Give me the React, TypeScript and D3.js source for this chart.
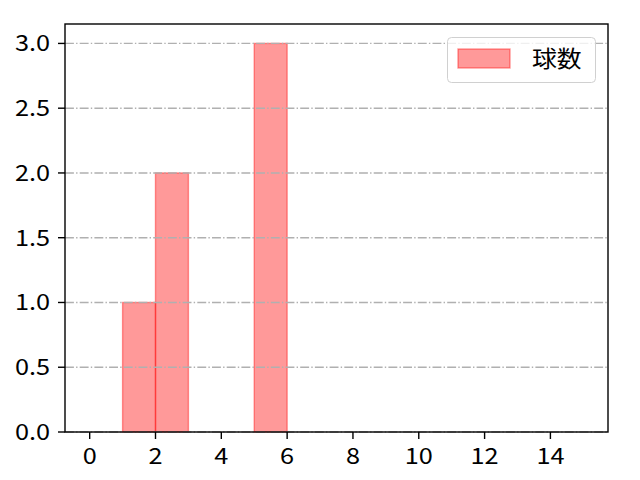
import React from "react";
import * as d3 from "d3";

const binStarts = [1, 2, 5];
const binEnds = [2, 3, 6];
const counts = [1, 2, 3];
const xTicks = [0, 2, 4, 6, 8, 10, 12, 14];
const yTicks = [0, 0.5, 1.0, 1.5, 2.0, 2.5, 3.0];
const seriesName = "球数";

export default function App() {
  const W = 640, H = 480;
  const L = 65, R = 608, T = 24, B = 432;
  const x = d3.scaleLinear().domain([-0.75, 15.75]).range([L, R]);
  const y = d3.scaleLinear().domain([0, 3.15]).range([B, T]);
  const font = "'Noto Sans CJK JP', 'DejaVu Sans', sans-serif";
  const sx = 1.15;
  return (
    <svg width={W} height={H} style={{ position: "absolute", left: 0, top: 0 }} fontFamily={font}>
      <rect width={W} height={H} fill="white" />
      {binStarts.map((s, i) => (
        <rect key={i} x={x(s)} y={y(counts[i])} width={x(binEnds[i]) - x(s)} height={y(0) - y(counts[i])}
          fill="rgba(255,0,0,0.4)" stroke="rgba(255,0,0,0.4)" strokeWidth={1.4} />
      ))}
      {yTicks.map((t) => (
        <line key={t} x1={L} x2={R} y1={y(t)} y2={y(t)} stroke="#b0b0b0" strokeWidth={1.39} strokeDasharray="8.9 2.2 1.4 2.2" />
      ))}
      <rect x={L} y={T} width={R - L} height={B - T} fill="none" stroke="black" strokeWidth={1.4} />
      {xTicks.map((t) => (
        <g key={t}>
          <line x1={x(t)} x2={x(t)} y1={B} y2={B + 7} stroke="black" strokeWidth={1.4} />
          <text transform={`translate(${x(t)},${B + 32}) scale(${sx},1)`} textAnchor="middle" fontSize={22}>{t}</text>
        </g>
      ))}
      {yTicks.map((t) => (
        <g key={t}>
          <line x1={L - 7} x2={L} y1={y(t)} y2={y(t)} stroke="black" strokeWidth={1.4} />
          <text transform={`translate(${L - 15},${y(t) + 8}) scale(${sx},1)`} textAnchor="end" fontSize={22}>{t.toFixed(1)}</text>
        </g>
      ))}
      <rect x={447.5} y={37.5} width={148} height={45} rx={4} fill="white" fillOpacity={0.8} stroke="#d0d0d0" strokeWidth={1} />
      <rect x={458} y={49} width={52} height={19} fill="rgba(255,0,0,0.4)" stroke="rgba(255,0,0,0.4)" strokeWidth={1.4} />
      <text transform={`translate(532,67) scale(1.08,1)`} fontSize={23}>{seriesName}</text>
    </svg>
  );
}
